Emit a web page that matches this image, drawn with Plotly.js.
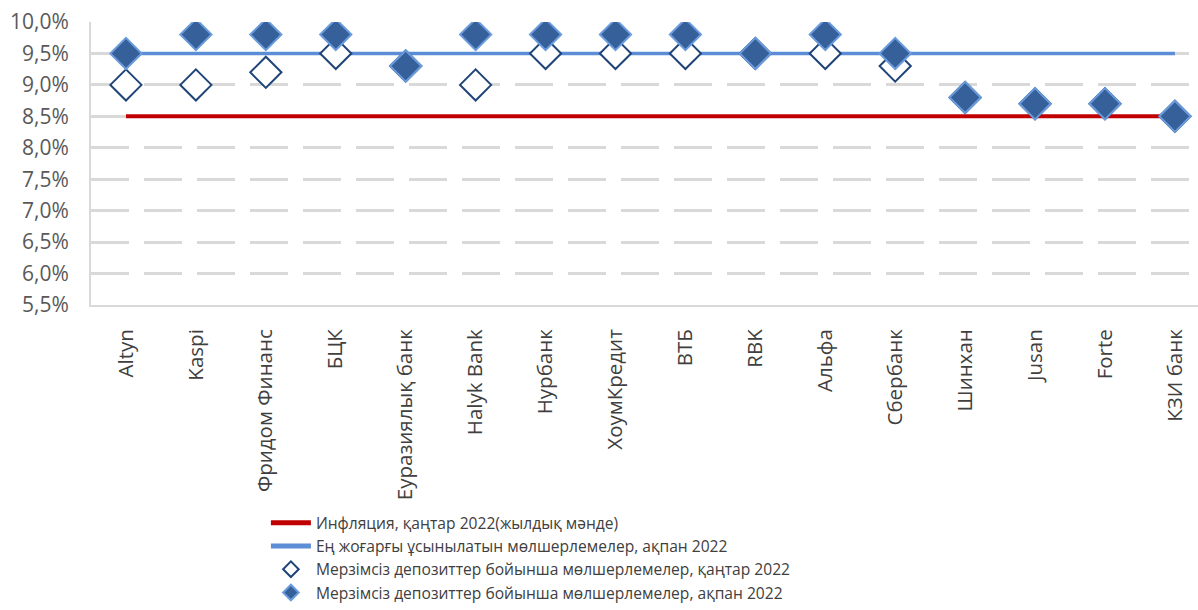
<!DOCTYPE html>
<html><head><meta charset="utf-8">
<script src="https://cdn.plot.ly/plotly-3.0.1.min.js"></script>
<style>html,body{margin:0;padding:0;background:#fff;overflow:hidden}#chart{width:1198px;height:610px}</style>
</head><body><div id="chart"></div>
<script>
var banks = ["Altyn","Kaspi","Фридом Финанс","БЦК","Еуразиялық банк","Halyk Bank","Нурбанк","ХоумКредит","ВТБ","RBK","Альфа","Сбербанк","Шинхан","Jusan","Forte","КЗИ банк"];
var inflationJan2022 = [8.5,8.5,8.5,8.5,8.5,8.5,8.5,8.5,8.5,8.5,8.5,8.5,8.5,8.5,8.5,8.5];
var maxRecommendedFeb2022 = [9.5,9.5,9.5,9.5,9.5,9.5,9.5,9.5,9.5,9.5,9.5,9.5,9.5,9.5,9.5,9.5];
var ratesJan2022 = [9.0,9.0,9.2,9.5,9.3,9.0,9.5,9.5,9.5,9.5,9.5,9.3,8.8,8.7,8.7,8.5];
var ratesFeb2022 = [9.5,9.8,9.8,9.8,9.3,9.8,9.8,9.8,9.8,9.5,9.8,9.5,8.8,8.7,8.7,8.5];
var seriesNames = ["Инфляция, қаңтар 2022(жылдық мәнде)","Ең жоғарғы ұсынылатын мөлшерлемелер, ақпан 2022","Мерзімсіз депозиттер бойынша мөлшерлемелер, қаңтар 2022","Мерзімсіз депозиттер бойынша мөлшерлемелер, ақпан 2022"];
var yTickVals = [5.5,6.0,6.5,7.0,7.5,8.0,8.5,9.0,9.5,10.0];
var yTickText = ["5,5%","6,0%","6,5%","7,0%","7,5%","8,0%","8,5%","9,0%","9,5%","10,0%"];

var xs = banks.map(function(_, i){ return i; });
var FONT = "Open Sans, Noto Sans, sans-serif";

var traces = [
  {x: xs, y: inflationJan2022, name: seriesNames[0], type: "scatter", mode: "lines",
   line: {color: "#C00000", width: 4}},
  {x: xs, y: maxRecommendedFeb2022, name: seriesNames[1], type: "scatter", mode: "lines",
   line: {color: "#5B8ED6", width: 3.5}},
  {x: xs, y: ratesJan2022, name: seriesNames[2], type: "scatter", mode: "markers",
   marker: {symbol: "diamond", size: 24, color: "#FFFFFF", line: {color: "#1F4478", width: 2}}},
  {x: xs, y: ratesFeb2022, name: seriesNames[3], type: "scatter", mode: "markers",
   marker: {symbol: "diamond", size: 24, color: "#36609A", line: {color: "#6A9BDC", width: 2}}}
];

var layout = {
  width: 1198, height: 610,
  margin: {l: 91, r: 0, t: 22, b: 304, pad: 0},
  paper_bgcolor: "#FFFFFF", plot_bgcolor: "#FFFFFF",
  showlegend: true,
  font: {family: FONT, color: "#595959"},
  xaxis: {
    range: [-0.5, 15.33], tickvals: xs, ticktext: banks, tickangle: -90,
    tickfont: {family: FONT, size: 20.5, color: "#404040"},
    showgrid: false, zeroline: false, showline: true, linecolor: "#D9D9D9", linewidth: 2,
    ticks: "", ticklabelstandoff: 14
  },
  yaxis: {
    range: [5.5, 10.0], tickvals: yTickVals, ticktext: yTickText,
    tickfont: {family: FONT, size: 21, color: "#595959"},
    showgrid: true, gridcolor: "#D9D9D9", gridwidth: 3, griddash: "38px,15px",
    zeroline: false, showline: true, linecolor: "#D9D9D9", linewidth: 2, ticks: "",
    ticklabelstandoff: 16
  },
  legend: {
    x: 0.158, y: -0.71, xanchor: "left", yanchor: "top",
    orientation: "v", bgcolor: "rgba(0,0,0,0)",
    font: {family: FONT, size: 15.6, color: "#404040"},
    tracegroupgap: 0, itemwidth: 40, itemsizing: "constant"
  },
  annotations: [
    {xref: "paper", yref: "paper", x: -0.0154, y: 1.06, xanchor: "right", yanchor: "bottom",
     text: "(%)", showarrow: false, font: {family: FONT, size: 21, color: "#595959"}}
  ]
};

Plotly.newPlot("chart", traces, layout, {displayModeBar: false, staticPlot: true});
</script>
</body></html>
